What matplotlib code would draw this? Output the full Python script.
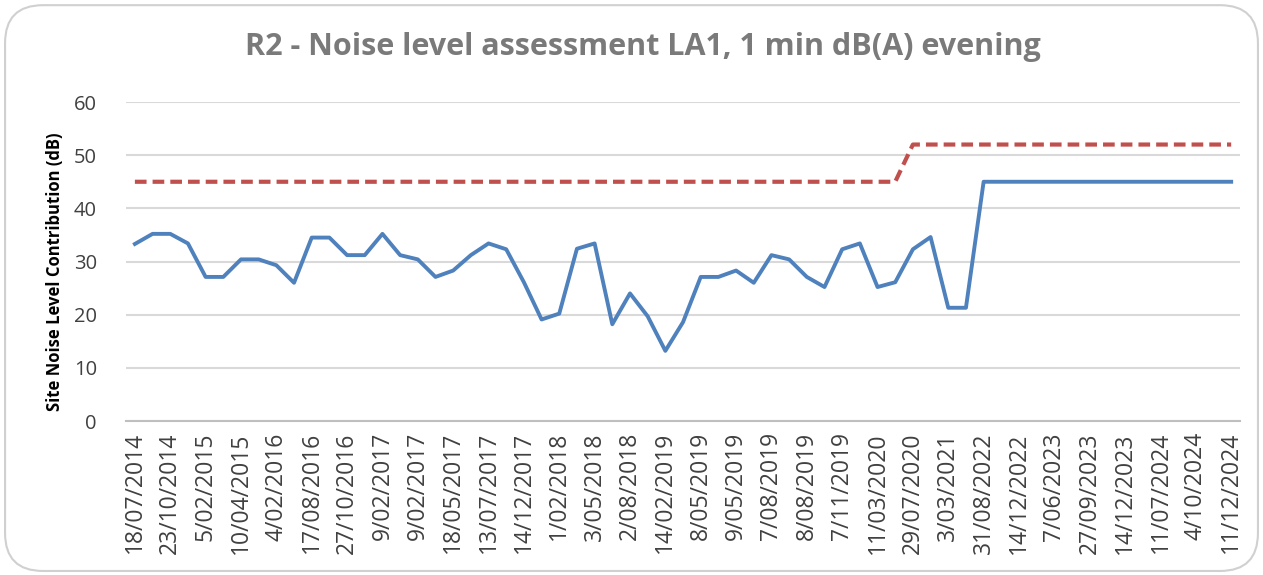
import matplotlib
matplotlib.use("Agg")
import matplotlib.pyplot as plt
from matplotlib.patches import FancyBboxPatch
import numpy as np

# one value per visit, labels shown on every second visit
tick_labels = [
    "18/07/2014", "23/10/2014", "5/02/2015", "10/04/2015", "4/02/2016",
    "17/08/2016", "27/10/2016", "9/02/2017", "9/02/2017", "18/05/2017",
    "13/07/2017", "14/12/2017", "1/02/2018", "3/05/2018", "2/08/2018",
    "14/02/2019", "8/05/2019", "9/05/2019", "7/08/2019", "8/08/2019",
    "7/11/2019", "11/03/2020", "29/07/2020", "3/03/2021", "31/08/2022",
    "14/12/2022", "7/06/2023", "27/09/2023", "14/12/2023", "11/07/2024",
    "4/10/2024", "11/12/2024",
]

site_level = [
    33.3, 35.2, 35.2, 33.4, 27.1, 27.1, 30.4, 30.4, 29.3, 26.0,
    34.5, 34.5, 31.2, 31.2, 35.2, 31.2, 30.4, 27.1, 28.3, 31.2,
    33.4, 32.3, 26.1, 19.1, 20.2, 32.4, 33.4, 18.2, 24.0, 19.7,
    13.2, 18.6, 27.1, 27.1, 28.3, 26.0, 31.2, 30.4, 27.1, 25.2,
    32.3, 33.4, 25.2, 26.1, 32.3, 34.6, 21.3, 21.3, 45, 45,
    45, 45, 45, 45, 45, 45, 45, 45, 45, 45,
    45, 45, 45,
]

criterion = [45] * 44 + [52] * 19

x = np.arange(len(site_level))

plt.rcParams['font.family'] = ['Open Sans', 'DejaVu Sans']

fig = plt.figure(figsize=(12.63, 5.75), dpi=100)
ax = fig.add_axes([0.0998, 0.2678, 0.8820, 0.5548])

# chart area border
fig.patches.append(FancyBboxPatch(
    (0.004, 0.007), 0.992, 0.984,
    boxstyle="round,pad=0,rounding_size=0.03",
    transform=fig.transFigure, facecolor='none',
    edgecolor='#d0d0d0', linewidth=1.5, mutation_aspect=2.2))

ax.plot(x, criterion, color='#c0504d', linestyle=(0, (2.8, 1.45)),
        linewidth=3, zorder=3)
ax.plot(x, site_level, color='#4f81bd', linewidth=2.8, zorder=4)

ax.set_xlim(-0.5, len(site_level) - 0.5)
ax.set_ylim(0, 60)
ax.set_yticks(range(0, 61, 10))
ax.set_xticks(x[::2])
ax.set_xticklabels(tick_labels, rotation=90, fontsize=16.5, color='#404040')
ax.tick_params(axis='y', labelsize=14.5, colors='#404040', length=0, pad=21)
ax.tick_params(axis='x', length=0, pad=8)

ax.grid(axis='y', color='#d9d9d9', linewidth=1.5)
ax.set_axisbelow(True)
for side in ['top', 'right', 'left']:
    ax.spines[side].set_visible(False)
ax.spines['bottom'].set_color('#bfbfbf')
ax.spines['bottom'].set_linewidth(1.5)

ax.set_ylabel("Site Noise Level Contribution (dB)", fontsize=12,
              fontweight='bold', color='black')
ax.yaxis.set_label_coords(-0.056, 0.467)

fig.text(0.509, 0.918, "R2 - Noise level assessment LA1, 1 min dB(A) evening",
         ha='center', va='center', fontsize=22, fontweight='bold',
         color='#7a7a7a')

fig.savefig("out.png", dpi=100, facecolor='white')
